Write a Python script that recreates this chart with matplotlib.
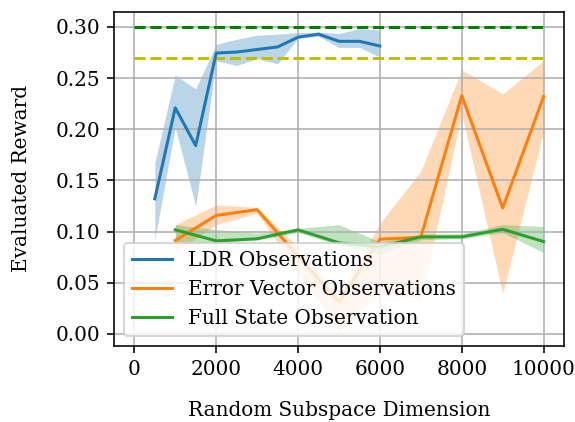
import matplotlib
matplotlib.use("Agg")
import matplotlib.pyplot as plt
import numpy as np

plt.rcParams['font.family'] = ['DejaVu Serif']

# LDR observations
ldr_dim = [500, 1000, 1500, 2000, 2500, 3000, 3500, 4000, 4500, 5000, 5500, 6000]
ldr_mean = [0.132, 0.221, 0.184, 0.2745, 0.2755, 0.278, 0.2805, 0.290, 0.293, 0.286, 0.286, 0.2814]
ldr_upper = [0.167, 0.253, 0.2395, 0.283, 0.288, 0.292, 0.293, 0.2946, 0.295, 0.2936, 0.2985, 0.297]
ldr_lower = [0.092, 0.2017, 0.1247, 0.267, 0.2624, 0.2690, 0.264, 0.289, 0.291, 0.280, 0.280, 0.2706]

# Error vector observations
err_dim = [1000, 2000, 3000, 4000, 5000, 6000, 7000, 8000, 9000, 10000]
err_mean = [0.0912, 0.1158, 0.1214, 0.076, 0.031, 0.0925, 0.0945, 0.2329, 0.123, 0.232]
err_upper = [0.1067, 0.126, 0.1235, 0.085, 0.035, 0.108, 0.159, 0.258, 0.2346, 0.267]
err_lower = [0.080, 0.1067, 0.118, 0.060, 0.0033, 0.040, 0.0328, 0.215, 0.0394, 0.198]

# Full state observation
full_dim = [1000, 2000, 3000, 4000, 5000, 6000, 7000, 8000, 9000, 10000]
full_mean = [0.1017, 0.0909, 0.0929, 0.1017, 0.0890, 0.0850, 0.0948, 0.0948, 0.1022, 0.0902]
full_upper = [0.1067, 0.102, 0.0984, 0.103, 0.1067, 0.090, 0.0975, 0.098, 0.1067, 0.105]
full_lower = [0.0902, 0.089, 0.0919, 0.099, 0.087, 0.078, 0.092, 0.093, 0.099, 0.0794]

# Reference levels
ref_x = [0, 10000]
ref_top = 0.30
ref_mid = 0.27

DPI = 144
fig = plt.figure(figsize=(575 / DPI, 422 / DPI), dpi=DPI)
ax = fig.add_axes([0.198, 0.181, 0.783, 0.791])

ax.plot(ref_x, [ref_top, ref_top], '--', color='g')
ax.plot(ref_x, [ref_mid, ref_mid], '--', color='y')

series = [
    (ldr_dim, ldr_mean, ldr_lower, ldr_upper, 'C0', 'LDR Observations'),
    (err_dim, err_mean, err_lower, err_upper, 'C1', 'Error Vector Observations'),
    (full_dim, full_mean, full_lower, full_upper, 'C2', 'Full State Observation'),
]
for x, m, lo, hi, c, lab in series:
    ax.plot(x, m, color=c, label=lab)
    ax.fill_between(x, lo, hi, color=c, alpha=0.3, linewidth=0)

ax.set_xticks([0, 2000, 4000, 6000, 8000, 10000])
ax.set_yticks(np.arange(0, 0.31, 0.05))
ax.yaxis.set_major_formatter(matplotlib.ticker.FormatStrFormatter('%.2f'))
ax.grid(True)
ax.set_xlabel('Random Subspace Dimension', labelpad=11)
ax.set_ylabel('Evaluated Reward', labelpad=12)
ax.legend(loc='lower left')

fig.savefig('out.png', dpi=DPI)
